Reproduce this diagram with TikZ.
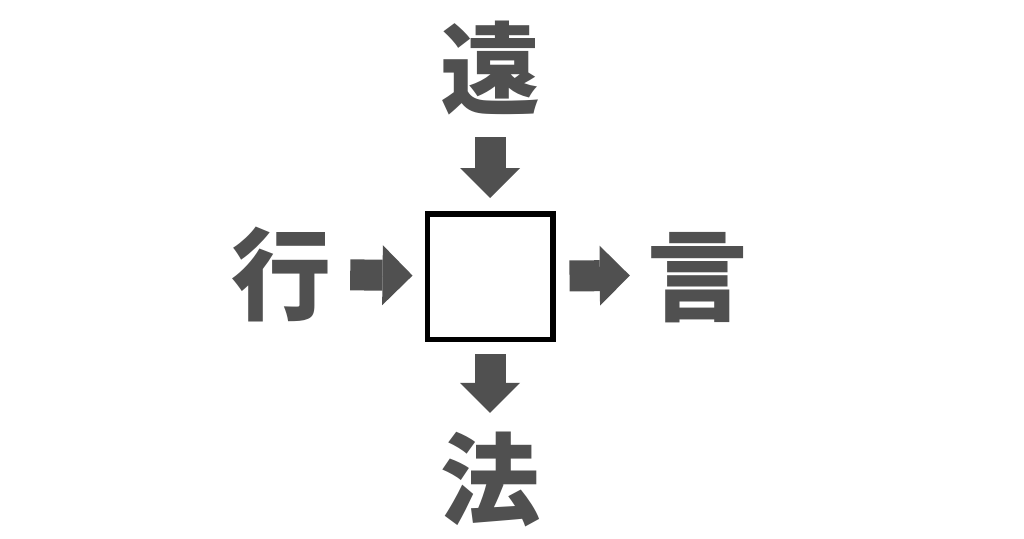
\documentclass[tikz,border=0pt]{standalone}
\usepackage{fontspec}
\newfontfamily\cjk{Noto Sans CJK JP}
\usetikzlibrary{arrows.meta}
\definecolor{ink}{RGB}{80,80,80}

\begin{document}
\begin{tikzpicture}[x=1pt, y=-1pt,
    kanji/.style={text=ink, font=\cjk\bfseries\fontsize{100}{100}\selectfont,
      inner sep=0pt, text height=88pt, text depth=12pt},
    blockarrow/.style={draw=ink, line width=31pt,
      -{Triangle[width=60pt, length=30pt, line width=0pt]}}]
  \useasboundingbox[fill=white] (0,0) rectangle (1024,538);

  % Blank square in the middle
  \node[draw, line width=5.5pt, minimum size=125.5pt, inner sep=0pt, fill=white] (blank) at (490,276.5) {};

  % Characters around it
  \node[kanji] (up) at (490,68) {遠};
  \node[kanji] (left) at (281,274) {行};
  \node[kanji] (right) at (697,275) {言};
  \node[kanji] (down) at (490,479) {法};

  % Arrows
  \draw[blockarrow, shorten <=19pt, shorten >=13pt] (up) -- (blank);
  \draw[blockarrow, shorten <=19pt, shorten >=12pt] (left) -- (blank);
  \draw[blockarrow, shorten <=14pt, shorten >=17pt] (blank) -- (right);
  \draw[blockarrow, shorten <=12pt, shorten >=16pt] (blank) -- (down);
\end{tikzpicture}
\end{document}
